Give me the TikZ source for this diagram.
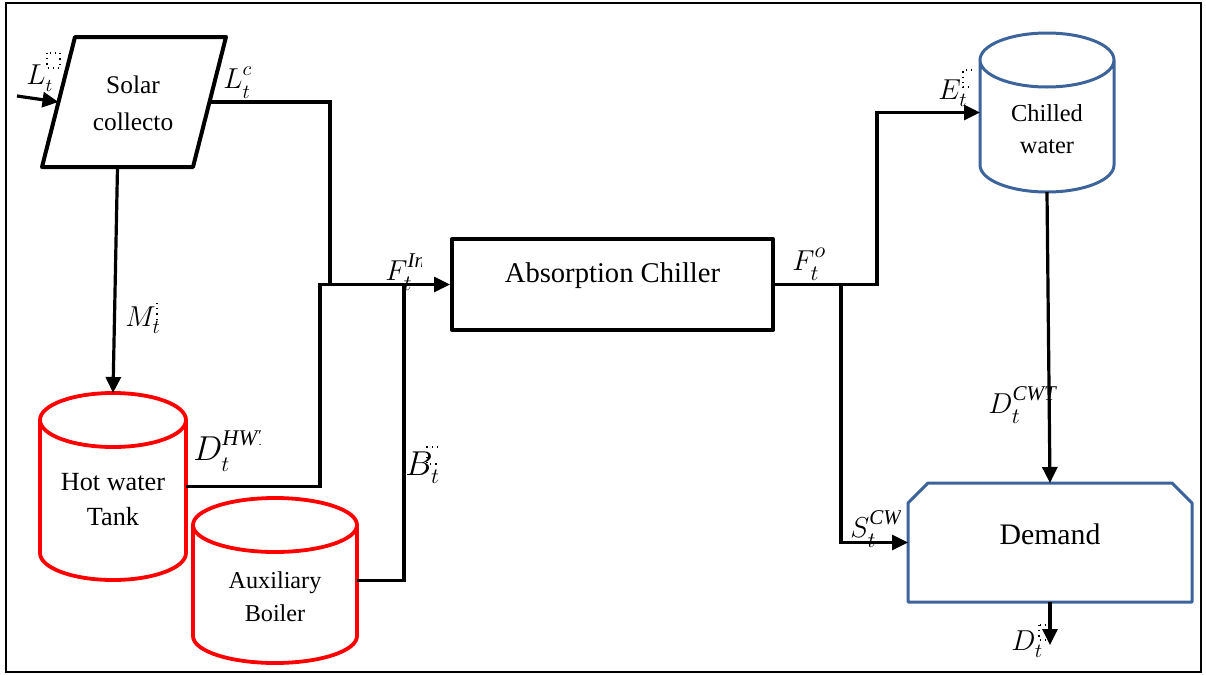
\documentclass[tikz,border=0pt]{standalone}
\usepackage{fontspec}
\setmainfont{Liberation Serif}
\usetikzlibrary{arrows.meta,calc}
\definecolor{tankred}{RGB}{255,0,0}
\definecolor{coolblue}{RGB}{60,100,155}

% Upright tank: #1 style, #2 centre x, #3 top y, #4 bottom y, #5 half width, #6 cap radius
\newcommand\tankshape[6]{%
  \draw[#1] (#2-#5,#3-#6) -- (#2-#5,#4+#6)
    arc[start angle=180,end angle=360,x radius=#5,y radius=#6]
    -- (#2+#5,#3-#6)
    arc[start angle=0,end angle=180,x radius=#5,y radius=#6]
    arc[start angle=180,end angle=360,x radius=#5,y radius=#6];}
% time index set a little lower, upper index a little higher
\newcommand\subt{_{\raisebox{-1.6pt}{$\scriptstyle t$}}}
\newcommand\supx[1]{^{\raisebox{1.2pt}{$\scriptstyle #1$}}}

\begin{document}
\begin{tikzpicture}[x=0.5pt,y=0.5pt,
  every node/.style={inner sep=0pt},
  boxline/.style={line width=2pt,line join=round},
  flow/.style={line width=1.6pt},
  feed/.style={flow,-{Triangle[length=8pt,width=7.5pt]}},
  hotline/.style={draw=tankred,line width=1.9pt},
  coldline/.style={draw=coolblue,line width=1.5pt},
  region/.style={rectangle,draw=none,inner sep=0pt,outer sep=0pt},
  caption/.style={align=center,inner sep=0pt},
  sym/.style={inner sep=0pt,anchor=base west},
  missing/.style={dotted,line width=0.6pt}]

\useasboundingbox (0,0) rectangle (1206,-675);
\draw[line width=1pt] (6,-3) rectangle (1201,-672);

% solar collector
\draw[boxline] (75,-37) -- (226,-37) -- (193,-167) -- (42,-167) -- cycle;
\node[caption,font=\fontsize{12.7}{18.5}\selectfont] (solar) at (133,-103) {Solar\\collecto};
\coordinate (solarin) at (58.5,-102);
\coordinate (solarout) at (209.5,-102);
\coordinate (solarbot) at (117.5,-167);

% hot water tank
\tankshape{hotline}{113}{-393}{-580}{73}{27}
\node[region,minimum width=73pt,minimum height=93.5pt] (hwt) at (113,-486.5) {};
\node[caption,font=\fontsize{13.1}{17.5}\selectfont] (hwtcap) at (113,-500) {Hot water\\Tank};

% auxiliary boiler
\tankshape{hotline}{275}{-498}{-663}{82}{27}
\node[region,minimum width=82pt,minimum height=82.5pt] (boiler) at (275,-580.5) {};
\node[caption,font=\fontsize{12.1}{16.5}\selectfont] (boilercap) at (275,-597) {Auxiliary\\Boiler};

% absorption chiller
\node[draw,boxline,minimum width=160.5pt,minimum height=45.5pt,text height=10pt,text depth=12pt,
      font=\fontsize{14.3}{17}\selectfont] (chiller) at (612.5,-284.5) {Absorption Chiller};

% chilled water tank
\tankshape{coldline}{1047}{-33}{-192}{67}{27}
\node[region,minimum width=67pt,minimum height=79.5pt] (chw) at (1047,-112.5) {};
\node[caption,font=\fontsize{12.2}{16}\selectfont] (chwcap) at (1047,-129) {Chilled\\water};

% demand
\node[region,minimum width=142pt,minimum height=59.5pt,text height=10pt,text depth=8pt,
      font=\fontsize{14.9}{17}\selectfont] (demand) at (1050,-542.5) {Demand};
\draw[coldline,line join=round] (demand.south west) -- ([yshift=-10pt]demand.north west)
  -- ([xshift=10pt]demand.north west) -- ([xshift=-10pt]demand.north east)
  -- ([yshift=-10pt]demand.north east) -- (demand.south east) -- cycle;

% junctions and free ends
\coordinate (sun) at (17,-96);
\coordinate (jA) at (330,-284.5);
\coordinate (jB) at (320,-284.5);
\coordinate (jC) at (404,-284.5);
\coordinate (jD) at (841,-284.5);
\coordinate (jE) at (877,-112.5);
\coordinate (dout) at (1050,-645);

% flows
\draw[feed] (sun) -- (solarin);
\draw[flow] (solarout) -| (jA);
\draw[feed] (solarbot) -- (hwt.north);
\draw[feed] (hwt.east) -| (jB) -- (chiller.west);
\draw[flow] (boiler.east) -| (jC);
\draw[feed] (chiller.east) -| (jE) -- (chw.west);
\draw[feed] (jD) |- (demand.west);
\draw[feed] (chw.south) -- (demand.north);
\draw[feed] (demand.south) -- (dout);

% flow symbols
\node[sym,font=\fontsize{13.5}{15}\selectfont] (lin) at (26,-84) {$L\subt$};
\draw[missing] (47,-53) rectangle (60,-68);
\node[sym,font=\fontsize{14}{16}\selectfont] (lc) at (223,-88) {$L\subt\supx{c}$};
\begin{scope}
  \clip (375,-240) rectangle (421,-300);
  \node[sym,font=\fontsize{15}{17}\selectfont] (fin) at (385,-280) {$F\subt\supx{\mathit{In}}$};
\end{scope}
\node[sym,font=\fontsize{14}{16}\selectfont] (mt) at (125,-326) {$M\subt$};
\draw[missing] (157,-303) -- (157,-321);
\begin{scope}
  \clip (185,-420) rectangle (260,-485);
  \node[sym,font=\fontsize{16}{18}\selectfont] (dhw) at (193,-460) {$D\subt\supx{\mathit{HWT}}$};
\end{scope}
\node[sym,font=\fontsize{16}{18}\selectfont] (bt) at (405,-475) {$B\subt$};
\draw[missing] (438,-447) -- (427,-447) -- (427,-464) -- (438,-464);
\node[sym,font=\fontsize{14}{16}\selectfont] (et) at (938,-99) {$E\subt$};
\draw[missing] (972,-70) -- (963,-70) -- (963,-87) -- (972,-87);
\node[sym,font=\fontsize{15}{17}\selectfont] (fo) at (792,-270) {$F\subt\supx{o}$};
\begin{scope}
  \clip (980,-380) rectangle (1058,-435);
  \node[sym,font=\fontsize{15}{17}\selectfont] (dcw) at (988,-413) {$D\subt\supx{\mathit{CWT}}$};
\end{scope}
\begin{scope}
  \clip (845,-500) rectangle (900,-560);
  \node[sym,font=\fontsize{15}{17}\selectfont] (scw) at (850,-537) {$S\subt\supx{\mathit{CW}}$};
\end{scope}
\node[sym,font=\fontsize{14}{16}\selectfont] (dt) at (1011,-650) {$D\subt$};
\draw[missing] (1039,-625) rectangle (1051,-640);
\end{tikzpicture}
\end{document}
